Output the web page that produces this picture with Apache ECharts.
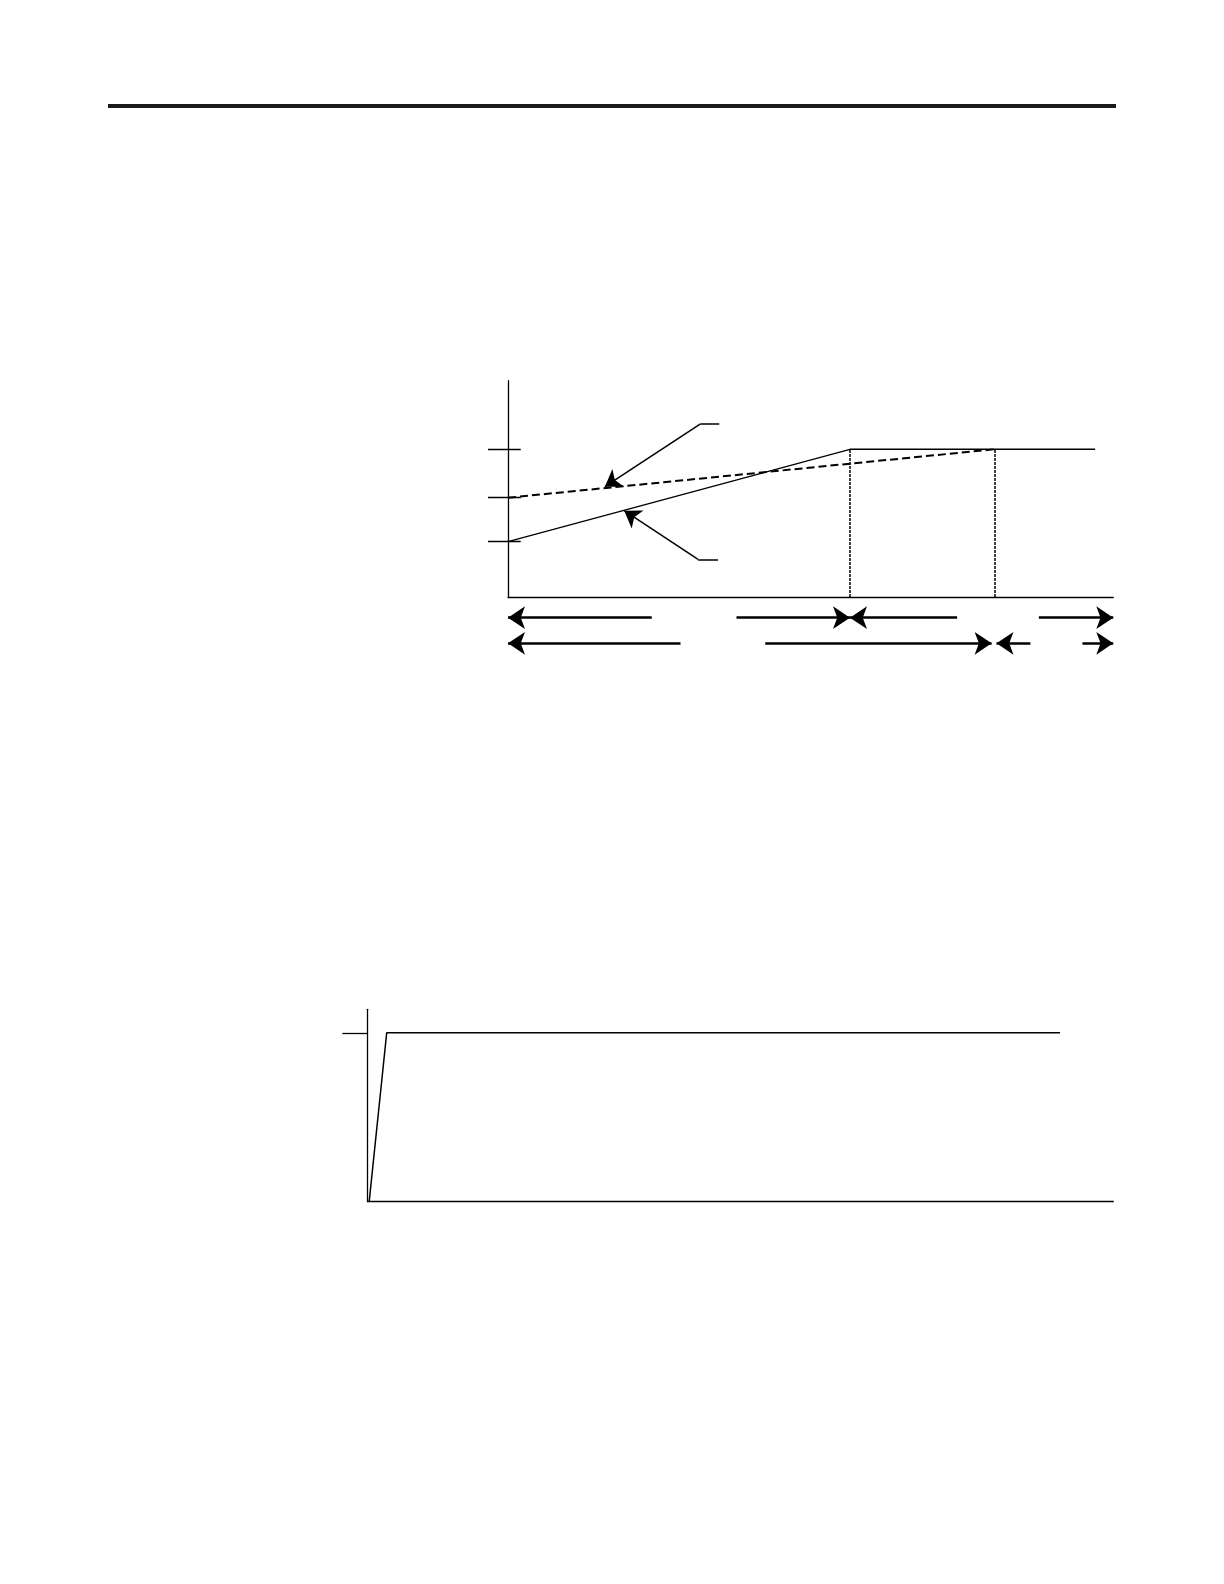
<!DOCTYPE html>
<html>
<head>
<meta charset="utf-8">
<script src="https://cdn.jsdelivr.net/npm/echarts@6/dist/echarts.min.js"></script>
<style>
html, body { margin: 0; padding: 0; background: #fff; }
#main { width: 1224px; height: 1584px; }
</style>
</head>
<body>
<div id="main"></div>
<script type="text/javascript">
// upper diagram: levels on the y axis (0..100 scale)
var topTicks = [68.3, 45.9, 25.6];
var solidX = [0, 56.5, 97];
var solidY = [25.6, 68.3, 68.3];
var dashedX = [0, 80.4];
var dashedY = [45.9, 68.3];
var dropX = [56.5, 80.4];
var dropTop = 68.3;
// leader lines pointing at the two curves: stub end, elbow, arrow tip
var leaderTop = [[34.9, 80], [31.8, 80], [16, 51]];
var leaderBottom = [[34.7, 17.4], [31.4, 17.4], [19.2, 39.9]];
// span arrows below the axis: [tail, head] pairs per row
var rowY = [20.7, 46.3];
var row1 = [[23.75, 0], [37.75, 56.5], [74.2, 56.5], [87.7, 100]];
var row2 = [[28.5, 0], [42.5, 79.9], [86.3, 80.7], [94.9, 100]];
// lower diagram
var lowTick = 87.8;
var rampX = [0.2, 2.55, 92.85];
var rampY = [0, 87.8, 87.8];

function pairs(xs, ys) {
    var out = [];
    for (var i = 0; i < xs.length; i++) out.push([xs[i], ys[i]]);
    return out;
}
function arrowRow(row, y) {
    return row.map(function (p) { return { coords: [[p[0], y], [p[1], y]] }; });
}

var axisLine = { show: true, onZero: false, lineStyle: { color: '#000', width: 1.3 } };
function valAxis(idx, min, max, showLine, inverse) {
    return {
        type: 'value', gridIndex: idx, min: min, max: max, inverse: !!inverse,
        axisLine: showLine ? axisLine : { show: false },
        axisTick: { show: false }, axisLabel: { show: false }, splitLine: { show: false }
    };
}

var myChart = echarts.init(document.getElementById('main'));
var option = {
    animation: false,
    backgroundColor: '#fff',
    graphic: [{
        type: 'rect', shape: { x: 108, y: 104, width: 1008, height: 4 },
        style: { fill: '#1a1a1a' }
    }],
    grid: [
        { left: 508, top: 380.7, width: 605.3, height: 216.3, outerBoundsMode: 'none' },
        { left: 508, top: 597, width: 605.3, height: 60, outerBoundsMode: 'none' },
        { left: 367.7, top: 1009.3, width: 745.6, height: 192.4, outerBoundsMode: 'none' }
    ],
    xAxis: [valAxis(0, 0, 100, true), valAxis(1, 0, 100, false), valAxis(2, 0, 100, true)],
    yAxis: [valAxis(0, 0, 100, true), valAxis(1, 0, 60, false, true), valAxis(2, 0, 100, true)],
    series: [
        {
            type: 'line', xAxisIndex: 0, yAxisIndex: 0, symbol: 'none',
            lineStyle: { color: '#000', width: 1.3 },
            data: pairs(solidX, solidY)
        },
        {
            type: 'line', xAxisIndex: 0, yAxisIndex: 0, symbol: 'none',
            lineStyle: { color: '#000', width: 2, type: [8, 4] },
            data: pairs(dashedX, dashedY)
        },
        {
            type: 'lines', coordinateSystem: 'cartesian2d', xAxisIndex: 0, yAxisIndex: 0,
            lineStyle: { color: '#000', width: 1.5, type: [3, 1], opacity: 1 },
            data: dropX.map(function (x) { return { coords: [[x, 0], [x, dropTop]] }; })
        },
        {
            type: 'lines', coordinateSystem: 'cartesian2d', xAxisIndex: 0, yAxisIndex: 0, clip: false,
            lineStyle: { color: '#000', width: 1.3, opacity: 1 },
            data: topTicks.map(function (t) { return { coords: [[-3.3, t], [2.1, t]] }; })
        },
        {
            // horizontal stubs of the leaders
            type: 'lines', coordinateSystem: 'cartesian2d', xAxisIndex: 0, yAxisIndex: 0,
            lineStyle: { color: '#000', width: 1.5, opacity: 1 },
            data: [leaderTop, leaderBottom].map(function (l) { return { coords: [l[0], l[1]] }; })
        },
        {
            // diagonal part with the arrow head
            type: 'lines', coordinateSystem: 'cartesian2d', xAxisIndex: 0, yAxisIndex: 0,
            symbol: ['none', 'arrow'], symbolSize: [13, 16],
            lineStyle: { color: '#000', width: 1.5, opacity: 1 },
            data: [leaderTop, leaderBottom].map(function (l) { return { coords: [l[1], l[2]] }; })
        },
        {
            type: 'lines', coordinateSystem: 'cartesian2d', xAxisIndex: 1, yAxisIndex: 1, clip: false,
            symbol: ['none', 'arrow'], symbolSize: [14, 17],
            lineStyle: { color: '#000', width: 2.5, opacity: 1 },
            data: arrowRow(row1, rowY[0]).concat(arrowRow(row2, rowY[1]))
        },
        {
            type: 'line', xAxisIndex: 2, yAxisIndex: 2, symbol: 'none',
            lineStyle: { color: '#000', width: 1.5 },
            data: pairs(rampX, rampY)
        },
        {
            type: 'lines', coordinateSystem: 'cartesian2d', xAxisIndex: 2, yAxisIndex: 2, clip: false,
            lineStyle: { color: '#000', width: 1.3, opacity: 1 },
            data: [{ coords: [[-3.4, lowTick], [0, lowTick]] }]
        }
    ]
};
myChart.setOption(option);
</script>
</body>
</html>
